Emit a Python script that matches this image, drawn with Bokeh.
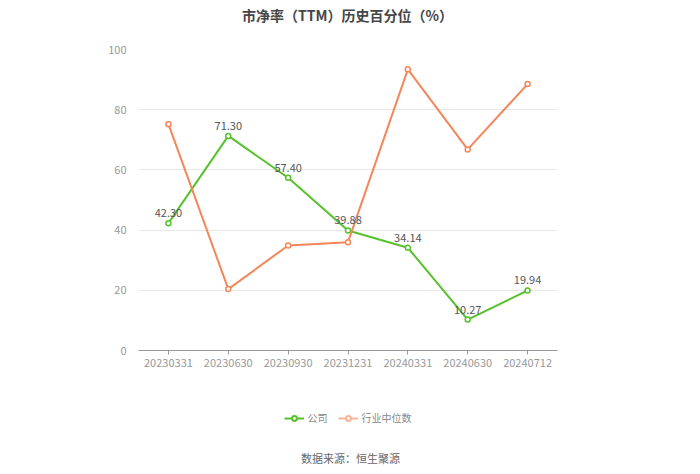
from bokeh.plotting import figure
from bokeh.layouts import column
from bokeh.models import ColumnDataSource, Label, Legend, LegendItem, FactorRange, FixedTicker
from bokeh.embed import file_html
from bokeh.resources import INLINE
from bokeh.core.properties import value

dates = ["20230331", "20230630", "20230930", "20231231", "20240331", "20240630", "20240712"]
company = [42.30, 71.30, 57.40, 39.88, 34.14, 10.27, 19.94]
industry = [75.2, 20.4, 34.9, 36.0, 93.4, 66.8, 88.5]
company_labels = ["42.30", "71.30", "57.40", "39.88", "34.14", "10.27", "19.94"]
series_names = ["公司", "行业中位数"]

FONT = "Noto Sans CJK SC"
GREEN = "#56c22b"
ORANGE = "#f4865a"
ORANGE_LIGHT = "#f7b59a"


def strip(height):
    f = figure(width=700, height=height, x_range=(0, 1), y_range=(0, 1),
               output_backend="svg", toolbar_location=None,
               x_axis_location=None, y_axis_location=None,
               min_border_top=0, min_border_bottom=0)
    f.outline_line_color = None
    f.xgrid.grid_line_color = None
    f.ygrid.grid_line_color = None
    return f


# top strip: title
p0 = strip(30)
p0.add_layout(Label(x=209, y=16, x_units="screen", y_units="screen", text="市净率（TTM）历史百分位（%）",
                    text_align="center", text_baseline="middle", text_font=FONT, text_font_size="14px",
                    text_font_style="bold", text_color="#464646"))

src = ColumnDataSource(dict(x=dates, c=company, i=industry, lab=company_labels))

p = figure(width=700, height=360, x_range=FactorRange(*dates), y_range=(0, 100),
           output_backend="svg", toolbar_location=None,
           min_border_left=138, min_border_right=143, min_border_top=19, min_border_bottom=40)
p.outline_line_color = None
p.background_fill_color = "white"
p.border_fill_color = "white"

p.yaxis.ticker = FixedTicker(ticks=[0, 20, 40, 60, 80, 100])
p.yaxis.axis_line_color = None
p.yaxis.major_tick_line_color = None
p.yaxis.minor_tick_line_color = None
p.yaxis.major_label_text_color = "#999999"
p.yaxis.major_label_text_font = FONT
p.yaxis.major_label_text_font_size = "11px"
p.yaxis.major_label_standoff = 6

p.xaxis.axis_line_color = "#999999"
p.xaxis.major_tick_line_color = "#999999"
p.xaxis.major_tick_in = 0
p.xaxis.major_tick_out = 4
p.xaxis.major_label_text_color = "#999999"
p.xaxis.major_label_text_font = FONT
p.xaxis.major_label_text_font_size = "11px"
p.xaxis.major_label_standoff = 4
p.xgrid.grid_line_color = None
p.ygrid.grid_line_color = "#e8e8e8"

p.line("x", "c", source=src, line_color=GREEN, line_width=2)
p.scatter("x", "c", source=src, marker="circle", size=5, fill_color="white", line_color=GREEN, line_width=1.5)
p.line("x", "i", source=src, line_color=ORANGE, line_width=2)
p.scatter("x", "i", source=src, marker="circle", size=5, fill_color="white", line_color=ORANGE, line_width=1.5)

p.text("x", "c", text="lab", source=src, text_align="center", text_baseline="bottom",
       y_offset=-6, text_font=value(FONT), text_font_size="11px", text_color="#555555")

# bottom strip: legend + source
p2 = strip(84)
lg1 = p2.line([-5, -4], [-5, -4], line_color=GREEN, line_width=2)
lgm1 = p2.scatter([-5], [-5], marker="circle", size=9, fill_color="white", line_color=GREEN, line_width=2)
lg2 = p2.line([-5, -4], [-5, -4], line_color=ORANGE_LIGHT, line_width=2)
lgm2 = p2.scatter([-5], [-5], marker="circle", size=9, fill_color="white", line_color=ORANGE_LIGHT, line_width=2)

legend = Legend(items=[LegendItem(label=series_names[0], renderers=[lg1, lgm1]),
                       LegendItem(label=series_names[1], renderers=[lg2, lgm2])],
                orientation="horizontal", location="top_center",
                label_text_font=FONT, label_text_font_size="10px", label_text_color="#888888",
                glyph_width=20, glyph_height=12, spacing=10, label_standoff=4,
                label_height=12,
                background_fill_alpha=0, border_line_color=None, padding=0, margin=20)
p2.add_layout(legend, "center")

p2.add_layout(Label(x=212, y=17, x_units="screen", y_units="screen", text="数据来源：恒生聚源",
                    text_align="center", text_baseline="middle", text_font=FONT, text_font_size="11px",
                    text_color="#666666"))

open("out.html", "w").write(file_html(column(p0, p, p2, spacing=0), INLINE))
